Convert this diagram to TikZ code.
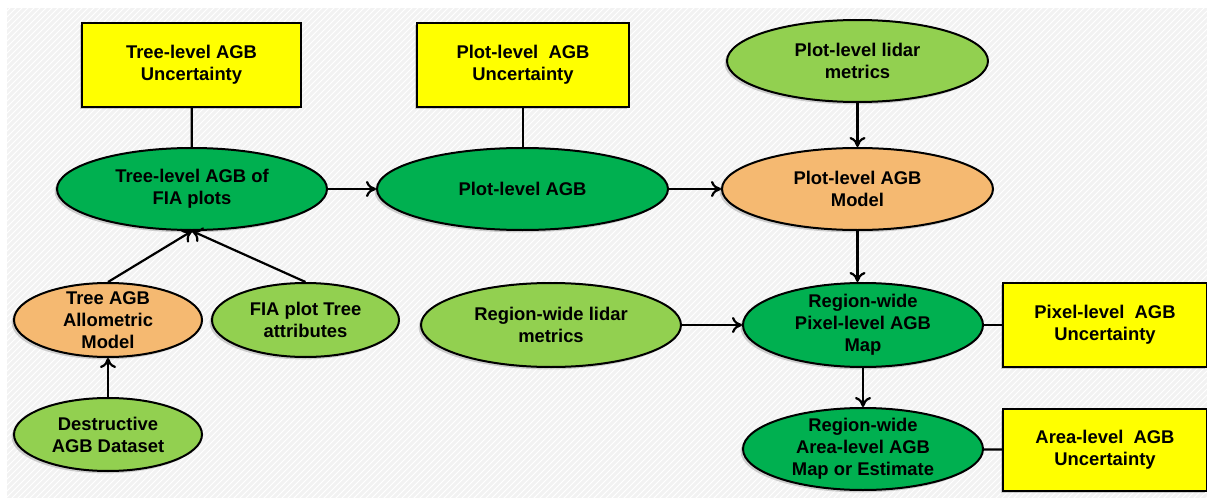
\documentclass[tikz,border=0pt]{standalone}
\usepackage{fontspec}
\setmainfont{Liberation Sans}
\usetikzlibrary{shapes.geometric,arrows.meta,shadows,patterns}
\definecolor{dgreen}{HTML}{00B050}
\definecolor{lgreen}{HTML}{92D050}
\definecolor{orng}{HTML}{F5B971}
\definecolor{ylw}{HTML}{FFFF00}
\definecolor{bgc}{HTML}{F2F2F2}
\begin{document}
\begin{tikzpicture}[x=0.5pt,y=-0.5pt,
  every node/.style={font=\fontsize{9.2pt}{11pt}\selectfont\bfseries, align=center, text=black},
  shd/.style={drop shadow={opacity=0.35, shadow xshift=-1.2pt, shadow yshift=-1.2pt}},
  ubox/.style={draw=black, line width=1pt, fill=ylw, rectangle, inner sep=0pt, shd},
  ell/.style={draw=black, line width=1pt, ellipse, inner xsep=0pt, inner ysep=-4pt, shd},
  dg/.style={ell, fill=dgreen},
  lg/.style={ell, fill=lgreen},
  og/.style={ell, fill=orng},
  conn/.style={line width=1.1pt, black},
  arr/.style={conn, -{To[length=5pt, width=8pt, line width=1.1pt]}}
]
\useasboundingbox (0,0) rectangle (1207,498);
\fill[white] (0,0) rectangle (1207,498);
\fill[bgc] (7,8) rectangle (1207,498);
\fill[pattern=north east lines, pattern color=white] (7,8) rectangle (1207,498);

\node[ubox, minimum width=109.5pt, minimum height=42pt] (tu) at (191.5,65) {Tree-level AGB\\Uncertainty};
\node[dg, minimum width=135pt, minimum height=41pt] (tl) at (192,189) {Tree-level AGB of\\FIA plots};
\node[ubox, minimum width=106pt, minimum height=42pt] (pu) at (523,65) {Plot-level\ \ AGB\\Uncertainty};
\node[dg, minimum width=145.5pt, minimum height=41pt] (pa) at (522.5,189) {Plot-level AGB};
\node[lg, minimum width=130.5pt, minimum height=41pt] (plm) at (857.5,61) {Plot-level lidar\\metrics};
\node[og, minimum width=135.5pt, minimum height=41pt] (pm) at (857.5,189) {Plot-level AGB\\Model};
\node[og, minimum width=94pt, minimum height=37pt] (am) at (108,320) {Tree AGB\\Allometric\\Model};
\node[lg, minimum width=93.5pt, minimum height=37pt] (fa) at (305.5,320) {FIA plot Tree\\attributes};
\node[lg, minimum width=94pt, minimum height=36.5pt] (dd) at (108,434.5) {Destructive\\AGB Dataset};
\node[lg, minimum width=130pt, minimum height=42pt] (rl) at (551,325) {Region-wide lidar\\metrics};
\node[dg, minimum width=120pt, minimum height=42pt] (pxm) at (863,325) {Region-wide\\Pixel-level AGB\\Map};
\node[ubox, minimum width=102pt, minimum height=42pt] (pxu) at (1105,325) {Pixel-level\ \ AGB\\Uncertainty};
\node[dg, minimum width=120pt, minimum height=41pt] (arm) at (863,449) {Region-wide\\Area-level AGB\\Map or Estimate};
\node[ubox, minimum width=102pt, minimum height=41pt] (aru) at (1105,450) {Area-level\ \ AGB\\Uncertainty};

\draw[conn] (tu) -- (tl);
\draw[conn] (pu.south) -- (pu.south |- pa.north);
\draw[arr] (tl) -- (pa);
\draw[arr] (pa) -- (pm);
\draw[arr] (plm) -- (pm);
\draw[arr] (pm.south) -- (pm.south |- pxm.north);
\draw[arr] (am.north) -- (tl.south);
\draw[arr] (fa.north) -- (tl.south);
\draw[arr] (dd) -- (am);
\draw[arr] (rl) -- (pxm);
\draw[conn] (pxm) -- (pxu);
\draw[arr] (pxm) -- (arm);
\draw[conn] (arm) -- (aru);
\end{tikzpicture}
\end{document}
